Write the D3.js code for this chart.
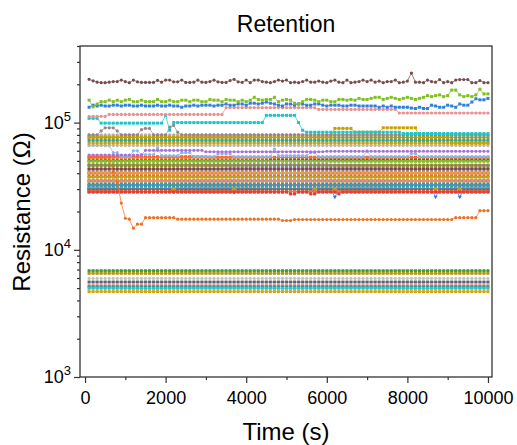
<!DOCTYPE html>
<html><head><meta charset="utf-8">
<script src="https://cdn.jsdelivr.net/npm/d3@7"></script>
<style>
body{margin:0;background:#fff}
text{font-family:Arial,"Liberation Sans",sans-serif;fill:#000}
</style></head>
<body><svg id="c" width="517" height="445"></svg>
<script>
// ---- data (resistance in kOhm, sampled every 100 s) ----
const times = [100,200,300,400,500,600,700,800,900,1000,1100,1200,1300,1400,1500,1600,1700,1800,1900,2000,
2100,2200,2300,2400,2500,2600,2700,2800,2900,3000,3100,3200,3300,3400,3500,3600,3700,3800,3900,4000,
4100,4200,4300,4400,4500,4600,4700,4800,4900,5000,5100,5200,5300,5400,5500,5600,5700,5800,5900,6000,
6100,6200,6300,6400,6500,6600,6700,6800,6900,7000,7100,7200,7300,7400,7500,7600,7700,7800,7900,8000,
8100,8200,8300,8400,8500,8600,8700,8800,8900,9000,9100,9200,9300,9400,9500,9600,9700,9800,9900,10000];

const brownTop = [219,213,208,206,206,208,210,210,216,210, 206,216,209,207,207,207,207,215,208,216,
216,209,209,216,207,207,208,216,208,207, 210,216,209,207,207,214,219,209,207,216,
206,216,216,210,208,206,210,216,212,216, 206,208,206,210,216,208,208,212,208,206,
212,216,208,206,216,206,208,210,216,210, 216,208,212,206,210,210,216,206,208,212,
245,208,208,206,216,210,208,218,206,210, 206,216,218,218,218,206,206,214,206,206];

const greenTop = [150,133,140,146,146,150,146,150,146,150, 152,146,146,150,146,146,146,152,146,146,
150,146,146,150,150,146,150,150,146,146, 152,150,150,146,152,150,150,146,150,146,
150,158,152,150,152,152,158,146,150,152, 150,142,140,146,152,152,150,146,150,150,
146,146,152,152,150,152,150,155,152,152, 155,158,158,152,155,158,155,152,155,158,
155,152,155,158,163,160,163,165,160,163, 180,180,165,160,163,160,165,183,168,168];

const blueTop = [132,137,135,137,135,135,137,137,135,137, 137,135,135,137,135,135,135,137,135,135,
137,135,135,132,135,135,137,135,137,137, 137,135,137,137,140,137,137,140,140,137,
142,142,140,142,145,142,140,137,135,140, 140,137,140,140,137,137,140,140,137,135,
137,137,137,135,135,137,137,135,135,135, 135,135,132,135,132,135,132,132,132,132,
130,129,132,129,129,137,135,132,132,137, 135,132,140,137,137,145,154,151,151,155];

// step runs: [value kOhm, number of consecutive samples]
const pinkTop   = [[112,5],[116,29],[131,23],[127,20],[119,23]];
const cyanTop   = [[108,3],[99,16],[114,1],[87,1],[100,23],[114,8],[100,1],[87,1],[84,24],[82,22]];
const orangeDrop= [[53,6],[41,1],[34,1],[23.3,1],[17.7,1],[17.4,1],[14.8,1],[15.9,1],[15.9,1],[17.9,8],[17.4,26],[17.0,3],[17.3,40],[17.9,6],[20.3,3]];
const greyHump  = [[80,3],[86,1],[91,3],[86,1],[80,5],[88,1],[90,2],[80,4],[92,1],[95,1],[84,1],[80,77]];
const goldJump  = [[77,61],[90,5],[84,7],[91,9],[77,8],[69,10]];
const greyFlat  = [[80,100]];
const oliveA    = [[76.5,100]];
const tealA     = [[72.5,100]];
const goldA     = [[69,100]];
const greyB     = [[66,100]];
const purpleA   = [[55.5,14],[60.5,15],[59,30],[59.5,41]];
const lightBlue = [[66,6],[58,2],[54,3],[60,2],[56,4],[63,1],[55,5],[58,3],[54,6],[57,4],[54,10],[62,1],[55,8],[58,2],[54,12],[60,1],[54,10],[57,2],[54,18]];

const band01=[[53.8,30],[53.4,70]], band02=[[53.0,100]], band03=[[50.2,45],[50.6,55]], band04=[[49.6,100]],
      band05=[[46.8,60],[46.4,40]], band06=[[46.2,100]], band07=[[45.9,100]], band08=[[43.4,35],[43.8,65]],
      band09=[[43.0,100]], band10=[[40.4,100]], band11=[[40.0,100]], band12=[[40.2,100]],
      band13=[[37.6,100]], band14=[[37.2,100]], band15=[[35.0,100]], band16=[[34.6,100]],
      band17=[[34.8,100]], band18=[[32.5,100]], band19=[[32.2,100]], band20=[[32.0,100]],
      band21=[[30.4,100]], band22=[[30.2,100]], band23=[[30.0,100]],
      band24=[[29.8,21],[28.6,1],[29.8,14],[28.2,1],[29.8,19],[28.2,1],[29.8,4],[26,1],[29.8,24],[26,1],[29.8,5],[26,1],[29.8,7]],
      band25=[[30.2,100]], band26=[[28.8,100]], band27=[[28.7,100]],
      band28=[[28.4,50],[27.5,2],[28.4,3],[27.5,2],[28.4,5],[27.5,1],[28.4,37]];

const low1=[[6.84,100]], low2=[[6.53,100]], low3=[[5.96,100]], low4=[[5.58,100]],
      low5=[[5.28,100]], low6=[[5.13,100]], low7=[[4.98,100]], low8=[[4.69,100]];

const xTicks = [0,2000,4000,6000,8000,10000];
const xMinor = [1000,3000,5000,7000,9000];
const yTicks = [1e3,1e4,1e5];
const yMinor = [2e3,3e3,4e3,5e3,6e3,7e3,8e3,9e3,2e4,3e4,4e4,5e4,6e4,7e4,8e4,9e4,2e5,3e5,4e5];

// ---- helpers ----
const runs = r => r.flatMap(([v,n]) => Array(n).fill(v));
const S = (vals, color, sym, lw) => ({vals, color, sym: sym||'sq', lw: lw||0.8});

const series = [
  S(runs(low1),'#3d9a3d'), S(runs(low2),'#b09a18'), S(runs(low3),'#c4c4c4','ci',0.6),
  S(runs(low4),'#5f6470'), S(runs(low5),'#e89a9a','ci',0.6), S(runs(low6),'#2a9d9d'),
  S(runs(low7),'#27c4cc'), S(runs(low8),'#d6a412'),
  S(runs(band01),'#e8373a'), S(runs(band02),'#f47a20','ci'), S(runs(band03),'#555555'),
  S(runs(band04),'#80bf2a'), S(runs(band05),'#3a7fd8','ci'), S(runs(band06),'#e37bb0'),
  S(runs(band07),'#8e8e2a'), S(runs(band08),'#a86fdc','ci'), S(runs(band09),'#7a4a4a'),
  S(runs(band10),'#27c4c8'), S(runs(band11),'#e8373a'), S(runs(band12),'#f0a030'),
  S(runs(band13),'#777777'), S(runs(band14),'#c9a010'), S(runs(band15),'#a86fdc'),
  S(runs(band16),'#3d9a3d'), S(runs(band17),'#e8888a'), S(runs(band18),'#555555'),
  S(runs(band19),'#f47a20'), S(runs(band20),'#2a9dc8'), S(runs(band21),'#8e8e2a'),
  S(runs(band22),'#e8373a'), S(runs(band23),'#a86fdc'), S(runs(band25),'#c9a010'),
  S(runs(band24),'#2f78d8','td'),
  S(runs(band26),'#6a5050'), S(runs(band27),'#f47a20'),
  S(runs(band28),'#e8373a'),
  S(runs(lightBlue),'#8ab8e6','ci',0.8), S(runs(purpleA),'#a86fdc','ci'),
  S(runs(greyB),'#b8b8b8','ci',0.6), S(runs(goldA),'#c9a010'), S(runs(tealA),'#2aa8a8'),
  S(runs(oliveA),'#8e9a2a'), S(runs(greyFlat),'#b0b0b0','ci',0.6), S(runs(goldJump),'#c9a000'),
  S(runs(greyHump),'#9a8484','ci',0.7),
  S(runs(orangeDrop),'#f07020','ci'),
  S(runs(cyanTop),'#1fc4c8','sq'), S(runs(pinkTop),'#ec8e8e','ci'),
  S(blueTop,'#2f7fdc','sq'), S(greenTop,'#80c020','sq'), S(brownTop,'#7b4b4b','ci')
];

// ---- chart ----
const svg = d3.select('#c');
const L=80, R=492, T=46, B=377;
const x = d3.scaleLinear().domain([-125,10100]).range([L,R]);
const y = d3.scaleLog().domain([1e3,4e5]).range([B,T]);

const symbols = {sq:d3.symbolSquare, ci:d3.symbolCircle, tr:d3.symbolTriangle, td:d3.symbolTriangle};
const plot = svg.append('g');
const line = d3.line().x((d,i)=>x(times[i])).y(d=>y(d*1000));

series.forEach(s=>{
  const g = plot.append('g');
  g.append('path').attr('d', line(s.vals)).attr('fill','none')
    .attr('stroke', s.color).attr('stroke-width', s.lw).attr('stroke-opacity',0.9);
  const sym = d3.symbol().type(symbols[s.sym]).size(s.sym==='ci'?8:(s.sym==='td'?7:9))();
  g.selectAll('path.m').data(s.vals).join('path').attr('class','m')
    .attr('d', sym).attr('fill', s.color)
    .attr('transform',(d,i)=>`translate(${x(times[i])},${y(d*1000)})${s.sym==='td'?' rotate(180)':''}`);
});

// frame
svg.append('rect').attr('x',L).attr('y',T).attr('width',R-L).attr('height',B-T)
  .attr('fill','none').attr('stroke','#333').attr('stroke-width',1.3);

// axes
const ax = svg.append('g').attr('transform',`translate(0,${B})`)
  .call(d3.axisBottom(x).tickValues(xTicks).tickFormat(d3.format('d')).tickSize(6).tickPadding(8));
svg.append('g').attr('transform',`translate(0,${B})`)
  .call(d3.axisBottom(x).tickValues(xMinor).tickFormat('').tickSize(3));
const ay = svg.append('g').attr('transform',`translate(${L},0)`)
  .call(d3.axisLeft(y).tickValues(yTicks).tickFormat('').tickSize(6).tickPadding(3));
svg.append('g').attr('transform',`translate(${L},0)`)
  .call(d3.axisLeft(y).tickValues(yMinor).tickFormat('').tickSize(3));
svg.selectAll('.domain').remove();
svg.selectAll('.tick line').attr('stroke','#333').attr('stroke-width',1.2);
ax.selectAll('.tick text').attr('font-size','18px').attr('font-family','Arial,"Liberation Sans",sans-serif');
ay.selectAll('.tick text').attr('font-size','18px').attr('font-family','Arial,"Liberation Sans",sans-serif')
  .each(function(d){
    const t = d3.select(this);
    t.append('tspan').text('10');
    t.append('tspan').attr('dy','-8').attr('font-size','13px').text(Math.round(Math.log10(d)));
  });

// titles
svg.append('text').attr('x',286).attr('y',32).attr('text-anchor','middle')
  .attr('font-size','23px').text('Retention');
svg.append('text').attr('x',286).attr('y',440).attr('text-anchor','middle')
  .attr('font-size','24px').text('Time (s)');
svg.append('text').attr('transform','translate(30,212) rotate(-90)').attr('text-anchor','middle')
  .attr('font-size','24px').text('Resistance (Ω)');
</script></body></html>
